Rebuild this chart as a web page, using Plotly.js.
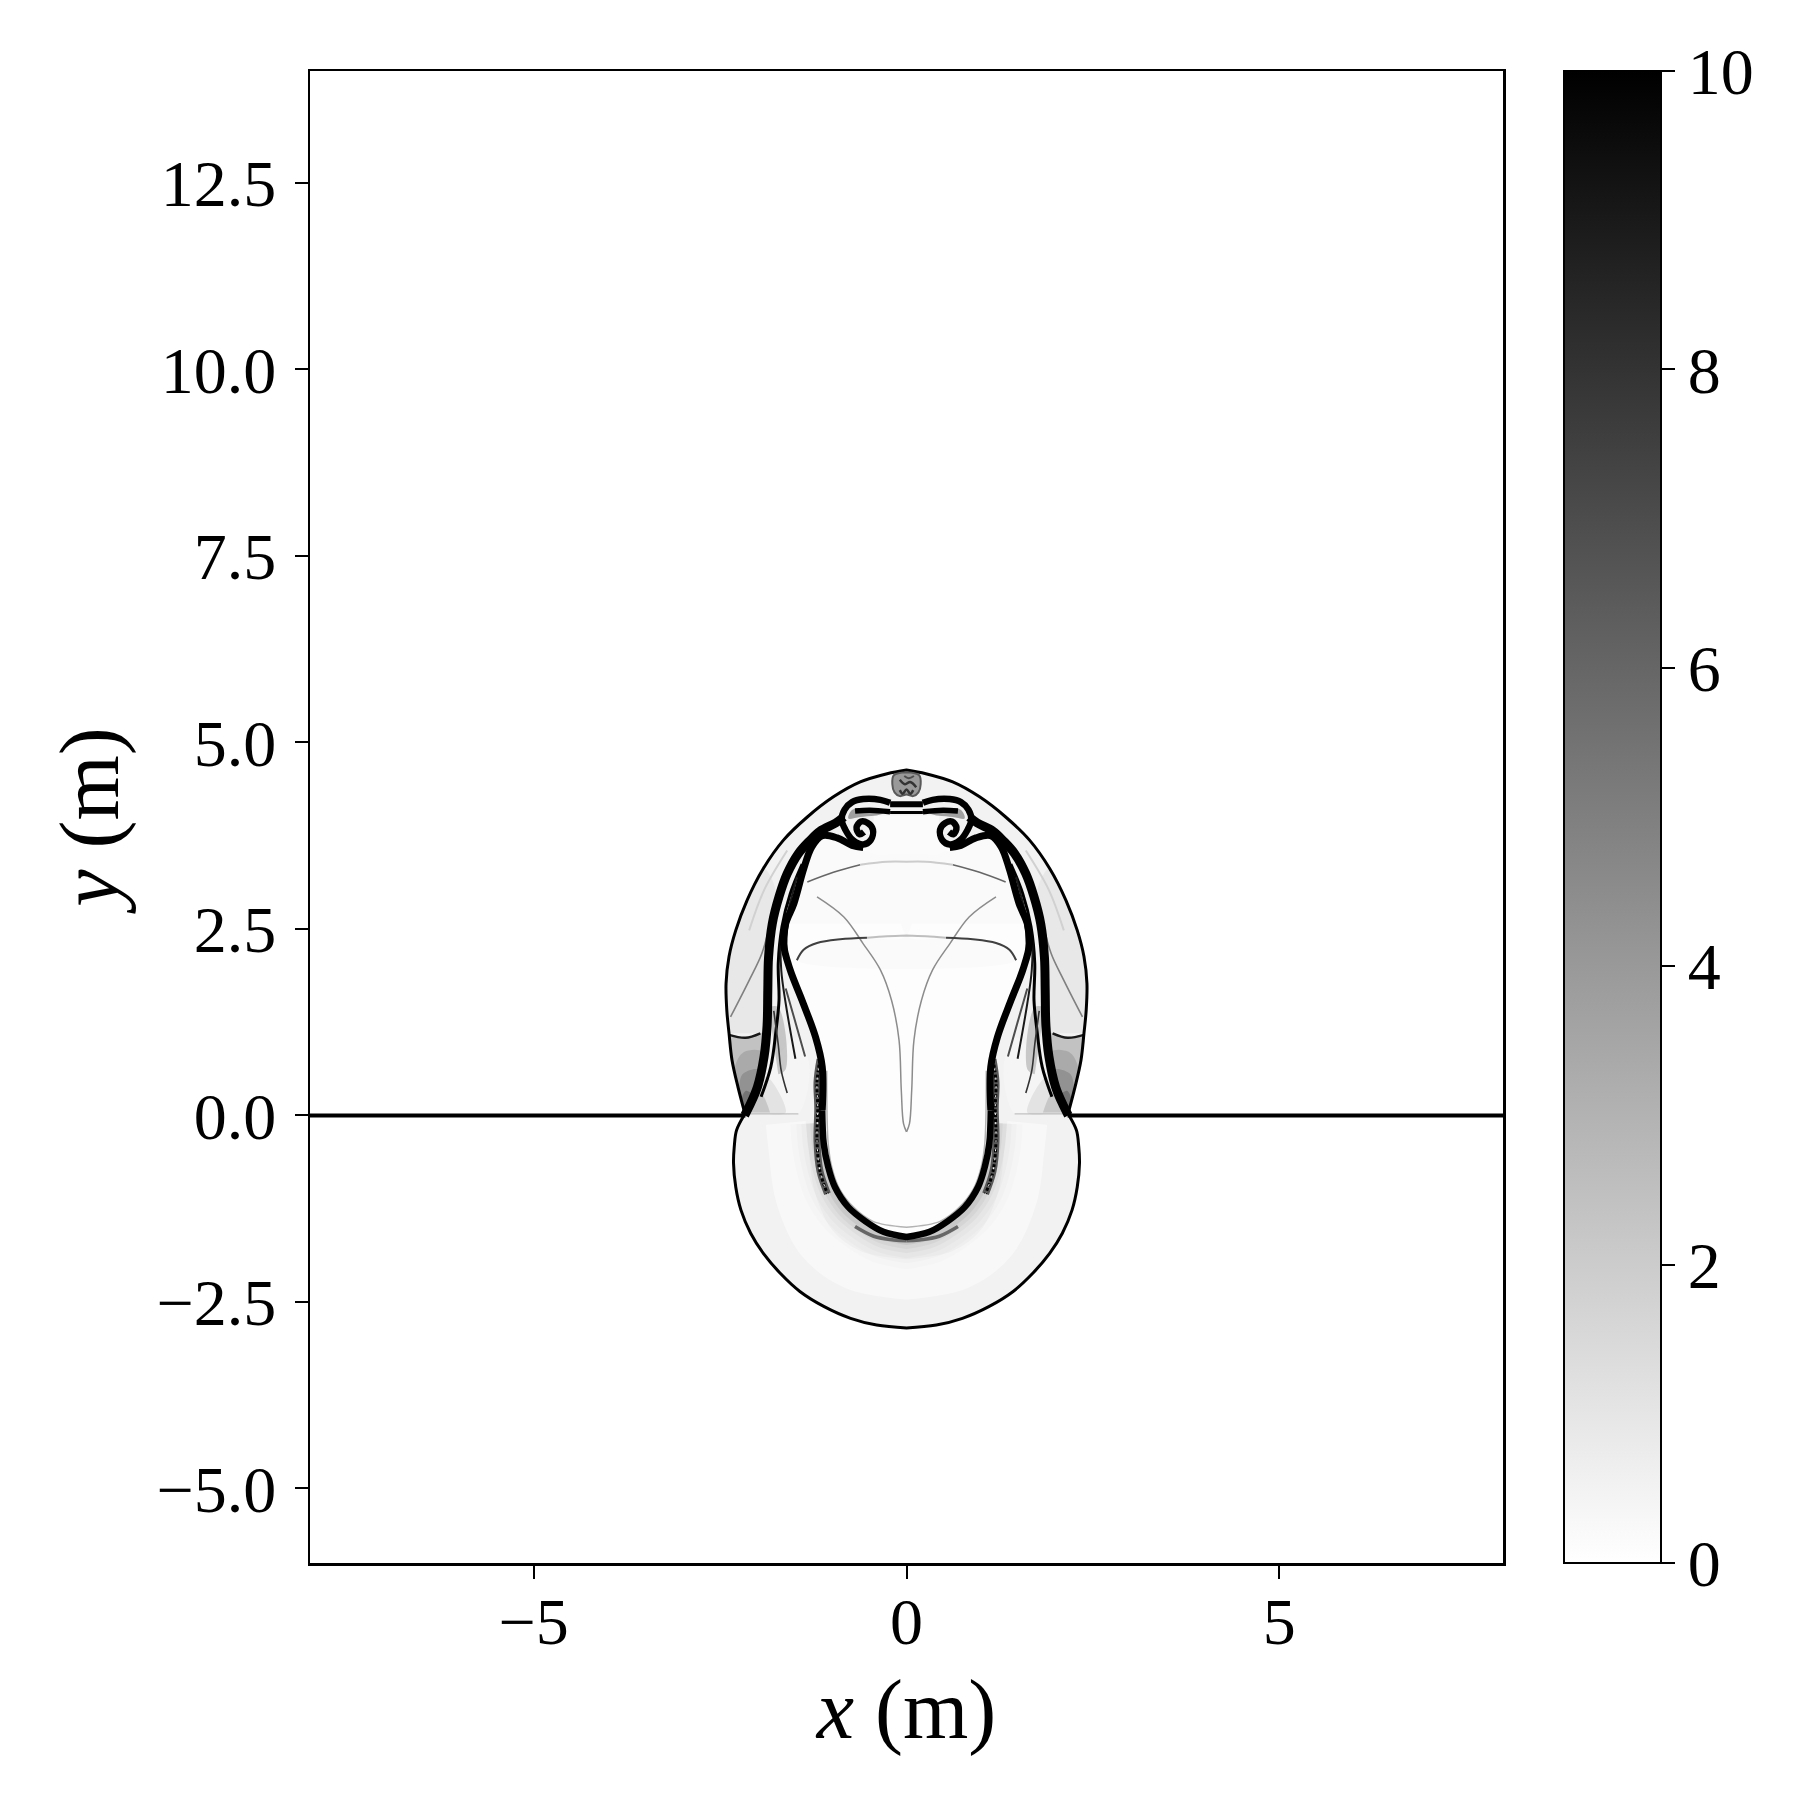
<!DOCTYPE html>
<html>
<head>
<meta charset="utf-8">
<script src="https://cdn.plot.ly/plotly-3.0.1.min.js"></script>
<style>body { margin: 0; background: #fff; }</style>
</head>
<body>
<div id="graphDiv" style="width:1800px;height:1800px"></div>
<script>
const xTicks = [-5, 0, 5];
const xLabels = ["\u22125", "0", "5"];
const yTicks = [-5, -2.5, 0, 2.5, 5, 7.5, 10, 12.5];
const yLabels = ["\u22125.0", "\u22122.5", "0.0", "2.5", "5.0", "7.5", "10.0", "12.5"];
const barTicks = [0, 2, 4, 6, 8, 10];

// right half of each feature, in metres
const shockTopX = [0, .26, .62, .98, 1.33, 1.65, 1.92, 2.14, 2.29, 2.38, 2.42, 2.41, 2.38, 2.34, 2.26, 2.16];
const shockTopY = [4.63, 4.58, 4.47, 4.27, 4.00, 3.69, 3.31, 2.88, 2.48, 2.13, 1.77, 1.41, 1.10, .74, .38, 0];
const shockLowX = [2.18, 2.28, 2.31, 2.32, 2.29, 2.22, 2.09, 1.92, 1.69, 1.43, 1.11, .75, .40, 0];
const shockLowY = [0, -.20, -.42, -.64, -.96, -1.27, -1.58, -1.85, -2.12, -2.36, -2.56, -2.72, -2.81, -2.85];
const midRingX = [1.62, 1.58, 1.49, 1.20, .71, 0];
const midRingY = [-.1, -.47, -1.09, -1.71, -2.07, -2.2];

const flankX = [.84, .95, 1.16, 1.30, 1.45, 1.60, 1.71, 1.80, 1.85, 1.86, 1.87, 1.91, 2.0, 2.11, 2.17];
const flankY = [4.0, 3.92, 3.81, 3.68, 3.51, 3.24, 2.93, 2.57, 2.12, 1.68, 1.20, .79, .38, .12, 0];

const capX = [.22, .35, .58, .73, .83, .87, .82, .72, .58, .48, .45, .52, .61, .67, .63, .57];
const capY = [4.19, 4.23, 4.24, 4.20, 4.10, 3.96, 3.83, 3.69, 3.63, 3.69, 3.83, 3.92, 3.94, 3.86, 3.77, 3.80];
const capInnerX = [.22, .49, .69];
const capInnerY = [4.07, 4.09, 4.08];
const capWedgeX = [.22, .72, .78, .62, .40];
const capWedgeY = [4.07, 4.10, 3.98, 4.0, 4.02];
const underCapX = [.44, .46, .56, .42, .2, 0];
const underCapY = [4.02, 3.75, 3.58, 3.50, 3.50, 3.50];

const tongueX = [.58, .73, .93, 1.13, 1.27, 1.38, 1.51, 1.62, 1.65, 1.56, 1.40, 1.22, 1.13, 1.13, 1.11, 1.05, .96, .78, .55, .31, 0];
const tongueY = [3.59, 3.62, 3.72, 3.75, 3.60, 3.30, 2.84, 2.57, 2.30, 1.95, 1.54, 1.05, .65, .07, -.38, -.69, -.96, -1.23, -1.42, -1.56, -1.63];
const haloX = [1.13, 1.11, 1.05, .96, .78, .55, .31, 0];
const haloY = [-.1, -.38, -.69, -.96, -1.23, -1.42, -1.56, -1.63];
const tongueRimX = [1.07, 1.05, 1.0, .90, .70, .45, 0];
const tongueRimY = [.60, -.38, -.70, -.98, -1.24, -1.42, -1.50];

const noiseX = [1.16, 1.20, 1.19, 1.20, 1.16, 1.06];
const noiseY = [.75, .45, .1, -.35, -.75, -1.05];
const skirtX = [.69, .44, .17, 0];
const skirtY = [-1.49, -1.62, -1.67, -1.68];

const strandAX = [1.40, 1.56, 1.67, 1.72, 1.71, 1.75, 1.82, 1.95];
const strandAY = [3.37, 2.97, 2.53, 2.04, 1.54, 1.14, .65, .25];
const strandBX = [1.47, 1.60, 1.68, 1.68, 1.62, 1.49];
const strandBY = [3.2, 2.7, 2.4, 1.95, 1.50, .76];
const strandCX = [1.62, 1.51, 1.36];
const strandCY = [1.70, 1.32, .79];
const strandDX = [1.78, 1.72, 1.68, 1.60];
const strandDY = [1.40, .95, .60, .30];
const strandEX = [1.34, 1.48, 1.59, 1.61, 1.54];
const strandEY = [3.42, 3.0, 2.6, 2.2, 1.85];
const streakX = [2.36, 2.11, 1.94, 1.83];
const streakY = [1.32, 1.81, 2.17, 2.57];
const paleX = [2.11, 1.91, 1.60];
const paleY = [2.48, 3.02, 3.55];
const slipX = [2.38, 2.16, 1.96];
const slipY = [1.08, 1.04, 1.10];

const wingLowX = [2.16, 2.26, 2.34, 2.37, 2.16, 1.92, 1.91, 2.0];
const wingLowY = [0, .38, .74, 1.07, 1.04, 1.10, .79, .38];
const wingMidX = [2.16, 2.27, 2.30, 2.18, 1.93, 2.0];
const wingMidY = [0, .38, .65, .85, .85, .38];
const wingDarkX = [2.16, 2.24, 2.20, 2.0, 1.96, 2.05];
const wingDarkY = [0, .3, .55, .62, .55, .25];
const wingTipX = [2.16, 2.21, 2.15, 2.03];
const wingTipY = [0, .22, .33, .25];
const wingUpX = [2.38, 2.41, 2.42, 2.38, 2.29, 2.14, 1.92, 1.75, 1.85, 1.87, 1.92];
const wingUpY = [1.10, 1.41, 1.77, 2.13, 2.48, 2.88, 3.31, 3.00, 2.12, 1.32, 1.10];
const gapX = [2.14, 1.98, 1.75, 1.45, 1.30, 1.45, 1.60];
const gapY = [.02, .38, .75, 1.05, .60, .02, .02];
const gapShadeX = [1.85, 1.72, 1.62, 1.72];
const gapShadeY = [1.45, 1.45, .62, .55];
const rootShadeX = [2.14, 2.0, 1.88, 1.62, 1.85];
const rootShadeY = [.02, .40, .52, .04, .02];
const rootCoreX = [2.12, 2.02, 1.95, 1.83];
const rootCoreY = [.04, .30, .30, .04];

const reflectX = [1.47, 1.38, 1.20, .89, .53];
const reflectY = [2.08, 2.22, 2.31, 2.36, 2.38];
const reflectMidX = [.53, .26, 0];
const reflectMidY = [2.38, 2.40, 2.41];
const upperX = [1.33, .98, .62];
const upperY = [3.13, 3.26, 3.36];
const upperMidX = [.62, .26, 0];
const upperMidY = [3.36, 3.40, 3.40];
const vortexX = [1.20, .84, .58, .35, .20, .10, .07, .04, 0];
const vortexY = [2.93, 2.66, 2.30, 1.95, 1.54, 1.01, .34, -.11, -.22];
const ceilingX = [1.62, 1.51, 1.38, 1.27, 1.13, .93, .6, 0];
const ceilingY = [2.57, 2.84, 3.30, 3.60, 3.75, 3.72, 3.55, 3.55];
const floorX = [1.47, 1.38, 1.20, .89, .53, 0];
const floorY = [2.08, 2.22, 2.31, 2.36, 2.38, 2.41];
const rootX = [2.17, 1.45];
const rootY = [.02, .02];

const barX = [0, .22];
const barTopY = [4.17, 4.17];
const barLowY = [4.06, 4.06];
const blobX = [0, .17, .19, .16, .09, 0];
const blobY = [4.60, 4.56, 4.44, 4.33, 4.28, 4.30];
const blobInkAX = [-.09, -.02, .05, .13];
const blobInkAY = [4.50, 4.44, 4.47, 4.40];
const blobInkBX = [-.09, -.05, .0, .05, .09];
const blobInkBY = [4.36, 4.31, 4.37, 4.31, 4.36];
const blobInkCX = [-.03, .03, .1];
const blobInkCY = [4.55, 4.52, 4.55];

const grey = (v, a) => {
    const c = Math.round(255 * (1 - v / 10));
    return `rgba(${c},${c},${c},${a === undefined ? 1 : a})`;
};

const traces = [{
    type: "heatmap",
    x: [-8, 8],
    y: [-6, 14],
    z: [[0, 0], [0, 0]],
    zmin: 0,
    zmax: 10,
    colorscale: [[0, "#ffffff"], [1, "#000000"]],
    hoverinfo: "skip",
    colorbar: {
        x: 1.051, xanchor: "left", xpad: 0,
        y: 0.5, yanchor: "middle", ypad: 0,
        len: 1, thickness: 97,
        outlinewidth: 2, outlinecolor: "#000",
        tickmode: "array", tickvals: barTicks, ticktext: barTicks.map(String),
        ticks: "outside", ticklen: 13, tickwidth: 2, tickcolor: "#000",
        tickfont: { family: "Liberation Serif", size: 66, color: "#000" }
    }
}];

const line = (x, y, v, width, a, dash) => traces.push({
    type: "scatter", mode: "lines", x, y, hoverinfo: "skip", showlegend: false,
    line: { color: grey(v, a), width, shape: "spline", smoothing: 1, dash: dash || "solid" }
});
const pair = (x, y, v, width, a, dash) => {
    line(x, y, v, width, a, dash);
    line(x.map((d) => -d), y, v, width, a, dash);
};
// x runs to or from the axis, the left side is the same curve mirrored
const whole = (x, y, v, width, a) => {
    const rev = x[0] > x[x.length - 1];
    const xo = rev ? x.slice().reverse() : x;
    const yo = rev ? y.slice().reverse() : y;
    line([...xo.slice().reverse().map((d) => -d), ...xo], [...yo.slice().reverse(), ...yo], v, width, a);
};
const patch = (x, y, v, a) => traces.push({
    type: "scatter", mode: "lines", x, y, fill: "toself", fillcolor: grey(v, a),
    hoverinfo: "skip", showlegend: false, line: { width: 0, shape: "spline", smoothing: 1 }
});
const pairPatch = (x, y, v, a) => {
    patch(x, y, v, a);
    patch(x.map((d) => -d), y, v, a);
};
const wholePatch = (x, y, v, a) => {
    const xs = [...x, ...x.slice().reverse().map((d) => -d)];
    const ys = [...y, ...y.slice().reverse()];
    patch(xs, ys, v, a);
};

// washes
wholePatch([...shockTopX, ...shockLowX], [...shockTopY, ...shockLowY], 0.5);
pairPatch(wingUpX, wingUpY, 0.9);
pairPatch(wingLowX, wingLowY, 2.4);
pairPatch(wingMidX, wingMidY, 10, 0.12);
pairPatch(wingDarkX, wingDarkY, 10, 0.14);
pairPatch(wingTipX, wingTipY, 10, 0.2);
pairPatch(gapX, gapY, 0.4);
pairPatch(gapShadeX, gapShadeY, 10, 0.18);
pairPatch(rootShadeX, rootShadeY, 10, 0.07);
pairPatch(rootCoreX, rootCoreY, 10, 0.12);
whole(midRingX, midRingY, 0, 40, 0.45);
for (const [w, a] of [[64, 0.012], [52, 0.015], [42, 0.02], [32, 0.03], [24, 0.04], [16, 0.06]]) {
    whole(haloX, haloY, 10, w, a);
}
wholePatch(tongueX, tongueY, 0.06);
wholePatch([...ceilingX, ...floorX.slice().reverse()], [...ceilingY, ...floorY.slice().reverse()], 0.2);
wholePatch(underCapX, underCapY, 0.15);

// thin interior waves
pair(vortexX, vortexY, 4.5, 1.5);
pair(reflectX, reflectY, 7.5, 2);
whole(reflectMidX, reflectMidY, 2.5, 2);
pair(upperX, upperY, 6, 1.6);
whole(upperMidX, upperMidY, 2, 2);
pair(rootX, rootY, 3, 1);
pair(paleX, paleY, 1.8, 2);
pair(streakX, streakY, 5, 1.6);
pair(slipX, slipY, 9, 2.5);
whole(tongueRimX, tongueRimY, 3, 1.5);

// wing strands
pair(strandAX, strandAY, 10, 3);
pair(strandBX, strandBY, 9, 2);
pair(strandCX, strandCY, 7, 2);
pair(strandDX, strandDY, 8, 1.6);
pair(strandEX, strandEY, 10, 2.5);

// noisy shear layer outside the tongue
pair(noiseX, noiseY, 6.5, 7);
pair(noiseX, noiseY, 10, 3, 1, "3px,2px");
pair(noiseX, noiseY, 0, 1, 1, "2px,7px");
pair(skirtX, skirtY, 6, 3.5);

// thick bands
pair(flankX, flankY, 10, 9);
whole(tongueX.slice(13), tongueY.slice(13), 10, 6.5);
pair(tongueX.slice(0, 14), tongueY.slice(0, 14), 10, 7);
pairPatch(capWedgeX, capWedgeY, 7, 0.5);
pair(capX, capY, 10, 6.5);
pair(capInnerX, capInnerY, 10, 5.5);
whole(barX, barTopY, 10, 6);
whole(barX, barLowY, 10, 3);

// shock front and the ground line
whole(shockTopX, shockTopY, 10, 3);
whole(shockLowX, shockLowY, 10, 3);
line([-8, -2.16], [0, 0], 10, 4);
line([2.16, 8], [0, 0], 10, 4);

// small blob on the top
wholePatch(blobX, blobY, 4.0);
whole(blobX, blobY, 6.5, 2);
line(blobInkAX, blobInkAY, 8, 2.5);
line(blobInkBX, blobInkBY, 8, 2.5);
line(blobInkCX, blobInkCY, 7, 2);

const layout = {
    width: 1800,
    height: 1800,
    margin: { l: 310, r: 297, t: 71, b: 237, autoexpand: false },
    paper_bgcolor: "#fff",
    plot_bgcolor: "#fff",
    font: { family: "Liberation Serif", color: "#000" },
    showlegend: false,
    xaxis: {
        range: [-8, 8], showgrid: false, zeroline: false,
        tickmode: "array", tickvals: xTicks, ticktext: xLabels,
        ticks: "outside", ticklen: 13, tickwidth: 2, tickcolor: "#000",
        showline: true, linecolor: "#000", linewidth: 2.5, mirror: true,
        tickfont: { size: 66 }, ticklabelstandoff: -14,
        title: { text: "<i>x</i> (m)", font: { size: 84 }, standoff: 23 }
    },
    yaxis: {
        range: [-6, 14], showgrid: false, zeroline: false,
        tickmode: "array", tickvals: yTicks, ticktext: yLabels,
        ticks: "outside", ticklen: 13, tickwidth: 2, tickcolor: "#000",
        showline: true, linecolor: "#000", linewidth: 2.5, mirror: true,
        tickfont: { size: 66 }, ticklabelstandoff: 5,
        title: { text: "<i>y</i> (m)", font: { size: 84 }, standoff: 10 }
    }
};

Plotly.newPlot("graphDiv", traces, layout, { displayModeBar: false, staticPlot: true });
</script>
</body>
</html>
